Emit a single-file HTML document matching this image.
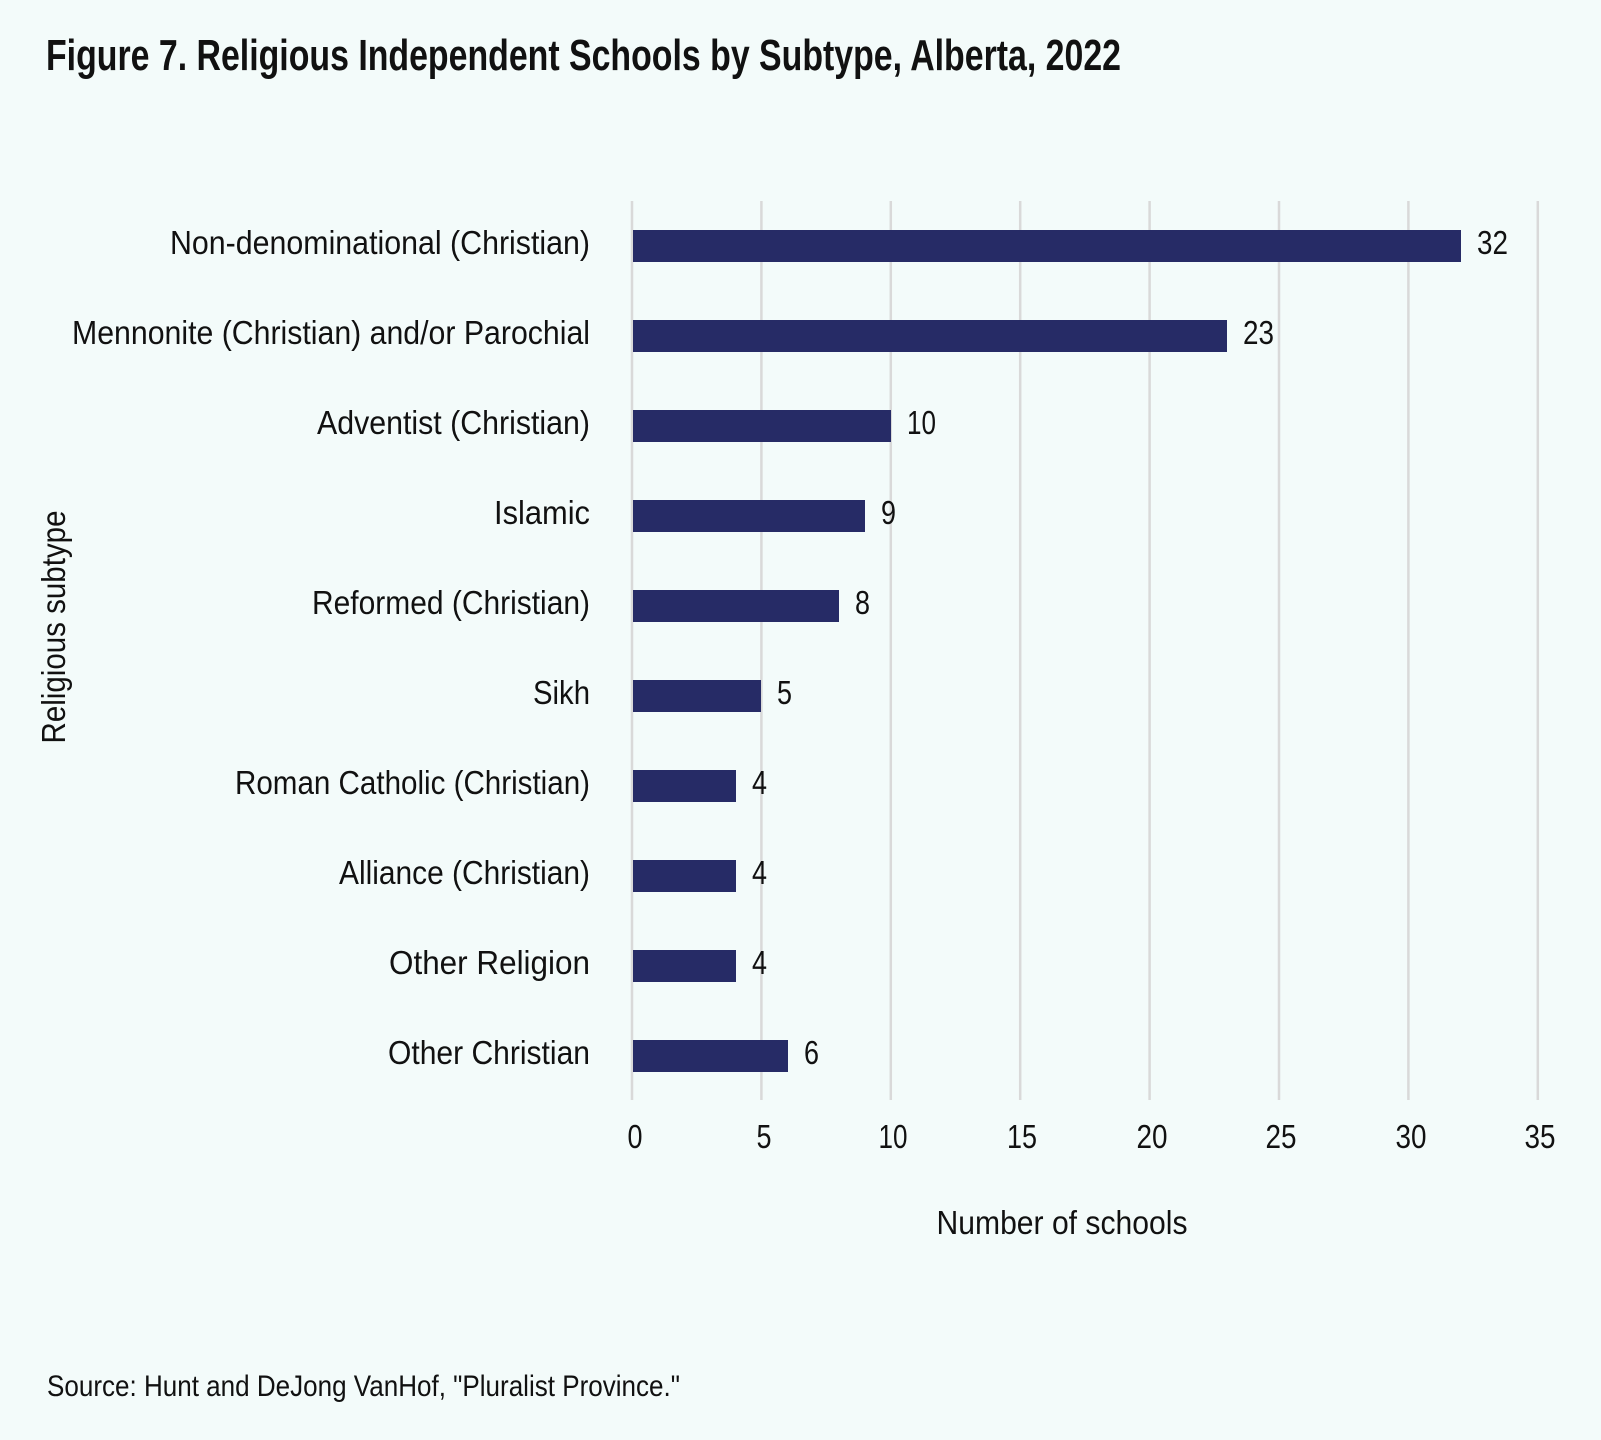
<!DOCTYPE html>
<html><head><meta charset="utf-8"><style>
html,body{margin:0;padding:0;background:#f3fbfa;}
svg{display:block}
text{font-family:"Liberation Sans Narrow","Liberation Sans",sans-serif;fill:#111;}
</style></head><body>
<svg width="1601" height="1440" viewBox="0 0 1601 1440" xmlns="http://www.w3.org/2000/svg">
<rect width="1601" height="1440" fill="#f3fbfa"/>
<text x="46" y="70" font-size="44" font-weight="bold" textLength="1075" lengthAdjust="spacingAndGlyphs">Figure 7. Religious Independent Schools by Subtype, Alberta, 2022</text>
<g stroke="#d9d9d9" stroke-width="2.5">
<line x1="632" y1="201" x2="632" y2="1100"/>
<line x1="761.4" y1="201" x2="761.4" y2="1100"/>
<line x1="890.8" y1="201" x2="890.8" y2="1100"/>
<line x1="1020.2" y1="201" x2="1020.2" y2="1100"/>
<line x1="1149.6" y1="201" x2="1149.6" y2="1100"/>
<line x1="1279" y1="201" x2="1279" y2="1100"/>
<line x1="1408.4" y1="201" x2="1408.4" y2="1100"/>
<line x1="1537.8" y1="201" x2="1537.8" y2="1100"/>
</g>
<g fill="#262b66">
<rect x="633" y="230" width="828" height="32"/>
<rect x="633" y="320" width="594" height="32"/>
<rect x="633" y="410" width="258" height="32"/>
<rect x="633" y="500" width="232" height="32"/>
<rect x="633" y="590" width="206" height="32"/>
<rect x="633" y="680" width="128" height="32"/>
<rect x="633" y="770" width="103" height="32"/>
<rect x="633" y="860" width="103" height="32"/>
<rect x="633" y="950" width="103" height="32"/>
<rect x="633" y="1040" width="155" height="32"/>
</g>
<g font-size="33" text-anchor="end">
<text x="590" y="254" textLength="420" lengthAdjust="spacingAndGlyphs">Non-denominational (Christian)</text>
<text x="590" y="344" textLength="518" lengthAdjust="spacingAndGlyphs">Mennonite (Christian) and/or Parochial</text>
<text x="590" y="434" textLength="273" lengthAdjust="spacingAndGlyphs">Adventist (Christian)</text>
<text x="590" y="524" textLength="96" lengthAdjust="spacingAndGlyphs">Islamic</text>
<text x="590" y="614" textLength="278" lengthAdjust="spacingAndGlyphs">Reformed (Christian)</text>
<text x="590" y="704" textLength="57" lengthAdjust="spacingAndGlyphs">Sikh</text>
<text x="590" y="794" textLength="355" lengthAdjust="spacingAndGlyphs">Roman Catholic (Christian)</text>
<text x="590" y="884" textLength="251" lengthAdjust="spacingAndGlyphs">Alliance (Christian)</text>
<text x="590" y="974" textLength="201" lengthAdjust="spacingAndGlyphs">Other Religion</text>
<text x="590" y="1064" textLength="202" lengthAdjust="spacingAndGlyphs">Other Christian</text>
</g>
<g font-size="33">
<text x="1477" y="254" textLength="31" lengthAdjust="spacingAndGlyphs">32</text>
<text x="1243" y="344" textLength="31" lengthAdjust="spacingAndGlyphs">23</text>
<text x="907" y="434" textLength="29" lengthAdjust="spacingAndGlyphs">10</text>
<text x="881" y="524" textLength="15" lengthAdjust="spacingAndGlyphs">9</text>
<text x="855" y="614" textLength="15" lengthAdjust="spacingAndGlyphs">8</text>
<text x="777" y="704" textLength="15" lengthAdjust="spacingAndGlyphs">5</text>
<text x="752" y="794" textLength="15" lengthAdjust="spacingAndGlyphs">4</text>
<text x="752" y="884" textLength="15" lengthAdjust="spacingAndGlyphs">4</text>
<text x="752" y="974" textLength="15" lengthAdjust="spacingAndGlyphs">4</text>
<text x="804" y="1064" textLength="15" lengthAdjust="spacingAndGlyphs">6</text>
</g>
<g font-size="33" text-anchor="middle">
<text x="635" y="1148" textLength="15" lengthAdjust="spacingAndGlyphs">0</text>
<text x="764" y="1148" textLength="15" lengthAdjust="spacingAndGlyphs">5</text>
<text x="893" y="1148" textLength="29" lengthAdjust="spacingAndGlyphs">10</text>
<text x="1022" y="1148" textLength="30" lengthAdjust="spacingAndGlyphs">15</text>
<text x="1152" y="1148" textLength="31" lengthAdjust="spacingAndGlyphs">20</text>
<text x="1281" y="1148" textLength="31" lengthAdjust="spacingAndGlyphs">25</text>
<text x="1411" y="1148" textLength="31" lengthAdjust="spacingAndGlyphs">30</text>
<text x="1540" y="1148" textLength="31" lengthAdjust="spacingAndGlyphs">35</text>
</g>
<text x="1062" y="1234" font-size="33" text-anchor="middle" textLength="251" lengthAdjust="spacingAndGlyphs">Number of schools</text>
<text transform="translate(65,627) rotate(-90)" font-size="33" text-anchor="middle" textLength="233" lengthAdjust="spacingAndGlyphs">Religious subtype</text>
<text x="47" y="1396" font-size="30" textLength="633" lengthAdjust="spacingAndGlyphs">Source: Hunt and DeJong VanHof, "Pluralist Province."</text>
</svg>
</body></html>
